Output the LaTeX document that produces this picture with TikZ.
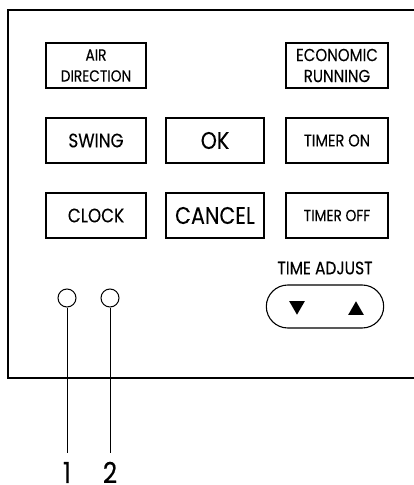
\documentclass[tikz,border=0pt]{standalone}
\usepackage{fontspec}
\setmainfont{Poppins}[FakeStretch=0.86, FakeBold=0.15]
\usetikzlibrary{positioning, shapes.geometric, shapes.misc}

\begin{document}
\begin{tikzpicture}[x=1pt, y=-1pt,
    btn/.style={draw, line width=1.1pt, minimum width=100pt, minimum height=45pt, inner sep=0pt, align=center},
    led/.style={draw, circle, line width=1pt, minimum size=18pt, inner sep=0pt},
    tri/.style={regular polygon, regular polygon sides=3, fill=black, minimum size=18pt, inner sep=0pt},
    num/.style={inner sep=0pt, font=\fontsize{29}{29}\selectfont}]
  \useasboundingbox (0,0) rectangle (414,485);
  % panel outline, open to the right
  \draw[line width=1.2pt] (414,10) -- (8,10) -- (8,378) -- (414,378);
  % buttons
  \node[btn, font=\fontsize{16}{21}\selectfont] (air) at (96,65.5) {AIR\\DIRECTION};
  \node[btn, minimum width=102pt, font=\fontsize{17.5}{21}\selectfont] (eco) at (337,65.5) {ECONOMIC\\RUNNING};
  \node[btn, font=\fontsize{19.5}{18}\selectfont] (swing) at (96,140.5) {SWING};
  \node[btn, minimum width=98pt, font=\fontsize{24}{22}\selectfont] (ok) at (215,140.5) {OK};
  \node[btn, minimum width=102pt, font=\fontsize{17}{16}\selectfont] (ton) at (337,140.5) {TIMER ON};
  \node[btn, font=\fontsize{19.5}{18}\selectfont] (clock) at (96,215.5) {CLOCK};
  \node[btn, minimum width=98pt, font=\fontsize{24}{22}\selectfont] (cancel) at (215,215.5) {CANCEL};
  \node[btn, minimum width=102pt, font=\fontsize{16}{15}\selectfont] (toff) at (337,215.5) {TIMER OFF};
  % time adjust
  \node[font=\fontsize{18}{17}\selectfont] (tadj) at (325,268) {TIME ADJUST};
  \node[draw, rounded rectangle, line width=1.1pt, minimum width=124pt, minimum height=43pt] (adjust) at (325,306.5) {};
  \node[tri, shape border rotate=180] (down) at (297,305.7) {};
  \node[tri] (up) at (356,310.3) {};
  % lamps
  \node[led] (led1) at (67,298) {};
  \node[led] (led2) at (110,298) {};
  \coordinate (e1) at (67,453);
  \coordinate (e2) at (110,453);
  \draw[line width=1pt] (led1) -- (e1);
  \draw[line width=1pt] (led2) -- (e2);
  \node[num] (n1) at (67,472.5) {1};
  \node[num] (n2) at (110,472.5) {2};
\end{tikzpicture}
\end{document}
